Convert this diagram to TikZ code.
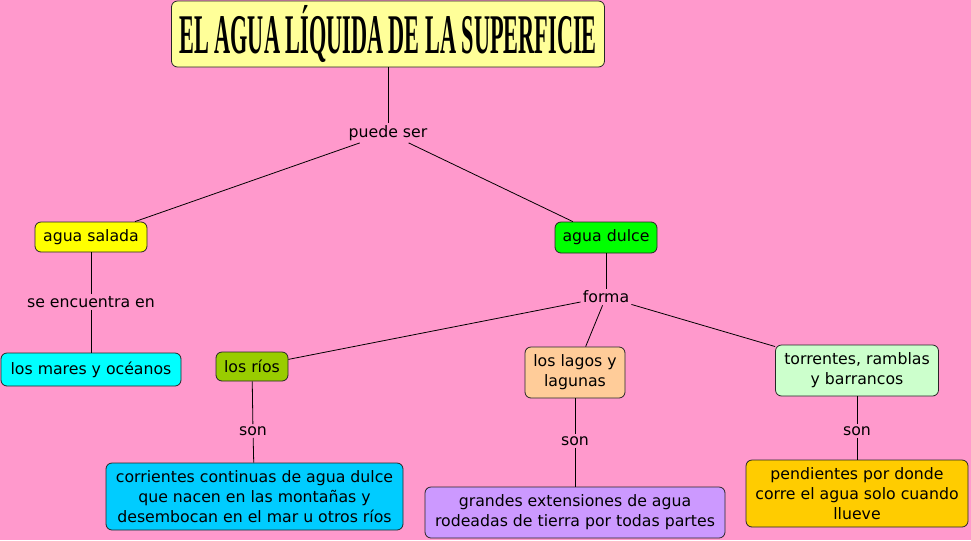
\documentclass[tikz,border=0pt]{standalone}
\usepackage{fontspec}
\setmainfont{DejaVu Sans}
\newfontfamily\titlefont{Liberation Serif}
\begin{document}
\begin{tikzpicture}[x=0.75pt,y=-0.75pt,
  every node/.style={font=\fontsize{11.8}{15}\selectfont, text=black},
  box/.style={draw=black!85, line width=0.6pt, rounded corners=4.5pt, align=center, inner sep=0pt},
  lbl/.style={inner sep=1.5pt, align=center},
  conn/.style={draw=black, line width=0.6pt}]
\definecolor{bg}{HTML}{FF99CC}
\useasboundingbox (0,0) rectangle (971,540);
\fill[bg] (0,0) rectangle (971,540);

\node[box, fill={rgb,255:red,255;green,255;blue,153}, minimum width=324.75pt, minimum height=49.5pt] (title) at (388,34)
  {\titlefont\bfseries\fontsize{42}{42}\selectfont\resizebox{313pt}{\height}{EL AGUA LÍQUIDA DE LA SUPERFICIE}};

\node[lbl] (puede) at (388,133) {puede ser};

\node[box, fill={rgb,255:red,255;green,255;blue,0}, minimum width=84pt, minimum height=22.5pt] (salada) at (91,237) {agua salada};
\node[box, fill={rgb,255:red,0;green,255;blue,0}, minimum width=76.5pt, minimum height=23.25pt] (dulce) at (606,237.5) {agua dulce};

\node[lbl] (encuentra) at (91,302) {se encuentra en};
\node[box, fill={rgb,255:red,0;green,255;blue,255}, minimum width=135pt, minimum height=24.75pt] (mares) at (91,369.5) {los mares y océanos};

\node[lbl] (forma) at (606,297) {forma};

\node[box, fill={rgb,255:red,153;green,204;blue,0}, minimum width=54pt, minimum height=21.75pt] (rios) at (252,366.5) {los ríos};
\node[box, fill={rgb,255:red,255;green,204;blue,153}, minimum width=75pt, minimum height=38.25pt] (lagos) at (575,372.5) {los lagos y\\lagunas};
\node[box, fill={rgb,255:red,204;green,255;blue,204}, minimum width=122.25pt, minimum height=38.25pt] (torrentes) at (857,370.5) {torrentes, ramblas\\y barrancos};

\node[lbl] (son1) at (253,431) {son};
\node[lbl] (son2) at (575,441) {son};
\node[lbl] (son3) at (857,431) {son};

\node[box, fill={rgb,255:red,0;green,204;blue,255}, minimum width=222.75pt, minimum height=50.25pt] (corrientes) at (254.5,496.5) {corrientes continuas de agua dulce\\que nacen en las montañas y\\desembocan en el mar u otros ríos};
\node[box, fill={rgb,255:red,204;green,153;blue,255}, minimum width=225pt, minimum height=38.25pt] (grandes) at (575,512.5) {grandes extensiones de agua\\rodeadas de tierra por todas partes};
\node[box, fill={rgb,255:red,255;green,204;blue,0}, minimum width=166.5pt, minimum height=50.25pt] (pendientes) at (857,493.5) {pendientes por donde\\corre el agua solo cuando\\llueve};

\draw[conn] (title) -- (puede);
\draw[conn] (puede) -- (salada);
\draw[conn] (puede) -- (dulce);
\draw[conn] (salada) -- (encuentra);
\draw[conn] (encuentra) -- (mares);
\draw[conn] (dulce) -- (forma);
\draw[conn] (forma) -- (rios);
\draw[conn] (forma) -- (lagos);
\draw[conn] (forma) -- (torrentes);
\draw[conn] (rios) -- (son1);
\draw[conn] (son1) -- (corrientes);
\draw[conn] (lagos) -- (son2);
\draw[conn] (son2) -- (grandes);
\draw[conn] (torrentes) -- (son3);
\draw[conn] (son3) -- (pendientes);
\end{tikzpicture}
\end{document}
